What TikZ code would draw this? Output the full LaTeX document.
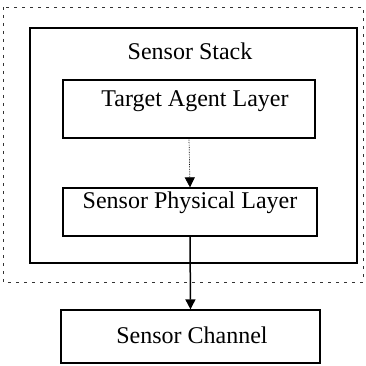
\documentclass[tikz,border=0pt]{standalone}
\usepackage{fontspec}
\setmainfont{Liberation Serif}
\usetikzlibrary{arrows.meta}
\begin{document}
\begin{tikzpicture}[x=1pt,y=-1pt,
  layerbox/.style={draw=black,line width=1.3pt,inner sep=0pt},
  lbl/.style={font=\fontsize{24}{28}\selectfont,inner sep=0pt},
  conn/.style={-{Triangle[length=10pt,width=10pt]}}]
\useasboundingbox (0,0) rectangle (365,366);
\draw[line width=0.8pt,dash pattern=on 3pt off 5pt,black!80] (3,7) rectangle (363,282);
\node[draw=black,line width=1.3pt,minimum width=327pt,minimum height=235pt,inner sep=0pt] (stack) at (193.5,145.5) {};
\node[lbl] (stacklbl) at (190,51) {Sensor Stack};
\node[layerbox,minimum width=252pt,minimum height=58pt] (tal) at (189,109) {};
\node[lbl] (tallbl) at (195,101) {Target Agent Layer};
\node[layerbox,minimum width=254pt,minimum height=48pt] (spl) at (190,212) {};
\node[lbl] (spllbl) at (190,203) {Sensor Physical Layer};
\node[layerbox,minimum width=259pt,minimum height=53pt] (sc) at (190.5,336.5) {};
\node[lbl] (sclbl) at (192,335) {Sensor Channel};
\draw[conn,line width=0.7pt,densely dotted] (tal.south) -- (spl.north);
\draw[conn,line width=1.5pt] (spl.south) -- (sc.north);
\end{tikzpicture}
\end{document}
